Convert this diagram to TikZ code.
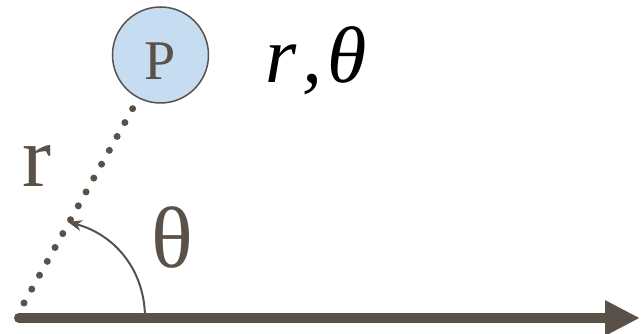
\documentclass[tikz,border=0pt]{standalone}
\usepackage{fontspec}
\setmainfont{Liberation Serif}
\usetikzlibrary{arrows.meta}
\definecolor{ink}{HTML}{5A5148}
\definecolor{pfill}{HTML}{C6DCF0}
\tikzset{
  pnode/.style={circle, draw=ink, line width=1.5pt, fill=pfill, minimum size=96pt, inner sep=0pt},
  lbl/.style={text=ink, inner sep=0pt, anchor=base west},
  dotline/.style={draw=ink, line width=7pt, line cap=round, dash pattern=on 0pt off 15.9pt},
  axisline/.style={draw=ink, line width=10pt, -{Triangle[length=35pt,width=33pt]}},
  anglearc/.style={draw=ink, line width=2pt, -{Stealth[length=14pt,width=11pt]}}
}
\begin{document}
\begin{tikzpicture}[x=1pt,y=1pt]
\useasboundingbox (0,0) rectangle (641,334);
\node[pnode] (P) at (160.5,279) {};
\node[text=ink, inner sep=0pt, anchor=base] (Pl) at (160.5,254) {\fontsize{56}{60}\selectfont P};
\coordinate (O) at (19,16);
\coordinate (X) at (640,16);
\coordinate (d1) at (24,31);
\coordinate (d2) at (133.3,226.5);
\coordinate (a1) at (145,16);
\coordinate (a2) at (68,112);
\draw[dotline] (d1) -- (d2);
\draw[anglearc] (a1) to[out=90,in=-15] (a2);
\draw[axisline] (O) -- (X);
\draw[ink, line width=10pt, line cap=round] (O) -- ++(2,0);
\node[lbl] (r) at (22,147) {\fontsize{87}{90}\selectfont r};
\node[lbl] (th) at (151,66) {\fontsize{87}{90}\selectfont θ};
\node[inner sep=0pt, anchor=base west] (rt) at (265,251) {\fontsize{80}{84}\selectfont\itshape r\kern6pt,\kern5ptθ};
\end{tikzpicture}
\end{document}
